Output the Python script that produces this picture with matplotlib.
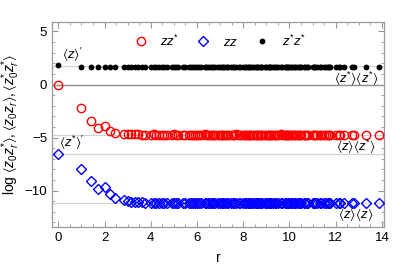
import numpy as np
import matplotlib
matplotlib.use("Agg")
import matplotlib.pyplot as plt
from matplotlib.ticker import MultipleLocator

plt.rcParams['font.family'] = ['Liberation Sans', 'DejaVu Sans']
plt.rcParams['mathtext.fontset'] = 'custom'
plt.rcParams['mathtext.rm'] = 'Liberation Sans'
plt.rcParams['mathtext.it'] = 'Liberation Sans:italic'
plt.rcParams['mathtext.fallback'] = 'stixsans'

# squared lattice distances r^2 = x^2 + y^2 + z^2
r2 = [0, 1, 2, 3, 4, 5, 6, 8, 9, 10,
      11, 12, 13, 14, 16, 17, 18, 19, 20, 21,
      22, 24, 25, 26, 27, 29, 30, 32, 33, 34,
      35, 36, 37, 38, 40, 41, 42, 43, 44, 45,
      46, 48, 49, 50, 51, 52, 53, 54, 56, 57,
      58, 59, 61, 62, 64, 65, 66, 67, 68, 69,
      70, 72, 73, 74, 75, 76, 77, 78, 80, 81,
      82, 83, 84, 85, 86, 88, 89, 90, 93, 94,
      96, 97, 98, 99, 100, 101, 102, 104, 105, 107,
      108, 109, 110, 113, 114, 116, 117, 121, 122, 123,
      125, 128, 129, 132, 134, 136, 137, 138, 144, 147,
      149, 153, 162, 164, 177, 192]
r = np.sqrt(r2)

# log <z0 zr*>
zz_star = [0.0, -2.19, -3.41, -4.07, -3.88, -4.35, -4.54, -4.64, -4.66, -4.69,
           -4.70, -4.71, -4.72, -4.72, -4.72, -4.71, -4.72, -4.72, -4.73, -4.72,
           -4.72, -4.72, -4.71, -4.72, -4.72, -4.72, -4.72, -4.73, -4.72, -4.72,
           -4.72, -4.72, -4.72, -4.72, -4.71, -4.72, -4.72, -4.72, -4.72, -4.72,
           -4.72, -4.72, -4.72, -4.73, -4.72, -4.72, -4.72, -4.72, -4.72, -4.72,
           -4.72, -4.71, -4.72, -4.72, -4.72, -4.72, -4.72, -4.72, -4.72, -4.72,
           -4.72, -4.72, -4.72, -4.72, -4.72, -4.73, -4.72, -4.72, -4.72, -4.72,
           -4.72, -4.72, -4.72, -4.72, -4.72, -4.72, -4.72, -4.72, -4.71, -4.72,
           -4.72, -4.72, -4.72, -4.72, -4.72, -4.72, -4.72, -4.72, -4.72, -4.72,
           -4.72, -4.72, -4.72, -4.72, -4.72, -4.72, -4.72, -4.72, -4.72, -4.72,
           -4.72, -4.72, -4.72, -4.72, -4.72, -4.72, -4.72, -4.72, -4.72, -4.72,
           -4.72, -4.72, -4.72, -4.72, -4.72, -4.72]

# log <z0 zr>
zz = [-6.56, -7.97, -9.07, -9.89, -9.64, -10.33, -10.74, -10.92, -11.00, -11.05,
      -11.08, -11.10, -11.12, -11.14, -11.15, -11.16, -11.17, -11.17, -11.18, -11.18,
      -11.18, -11.18, -11.18, -11.18, -11.18, -11.18, -11.18, -11.18, -11.18, -11.18,
      -11.18, -11.18, -11.18, -11.18, -11.18, -11.18, -11.18, -11.18, -11.18, -11.18,
      -11.18, -11.18, -11.18, -11.18, -11.18, -11.18, -11.18, -11.18, -11.18, -11.18,
      -11.18, -11.18, -11.18, -11.18, -11.18, -11.18, -11.18, -11.18, -11.18, -11.18,
      -11.18, -11.18, -11.18, -11.18, -11.18, -11.18, -11.18, -11.18, -11.18, -11.18,
      -11.18, -11.18, -11.18, -11.18, -11.18, -11.18, -11.18, -11.18, -11.18, -11.18,
      -11.18, -11.18, -11.18, -11.18, -11.18, -11.18, -11.18, -11.18, -11.18, -11.18,
      -11.18, -11.18, -11.18, -11.18, -11.18, -11.18, -11.18, -11.18, -11.18, -11.18,
      -11.18, -11.18, -11.18, -11.18, -11.18, -11.18, -11.18, -11.18, -11.18, -11.18,
      -11.18, -11.18, -11.18, -11.18, -11.18, -11.18]

# log <z0* zr*>
zs_zs = [1.85, 1.68, 1.68, 1.68, 1.68, 1.68, 1.68, 1.68, 1.68, 1.68,
         1.68, 1.68, 1.68, 1.68, 1.68, 1.68, 1.68, 1.68, 1.68, 1.68,
         1.68, 1.68, 1.68, 1.68, 1.68, 1.68, 1.68, 1.68, 1.68, 1.68,
         1.68, 1.68, 1.68, 1.68, 1.68, 1.68, 1.68, 1.68, 1.68, 1.68,
         1.68, 1.68, 1.68, 1.68, 1.68, 1.68, 1.68, 1.68, 1.68, 1.68,
         1.68, 1.68, 1.68, 1.68, 1.68, 1.68, 1.68, 1.68, 1.68, 1.68,
         1.68, 1.68, 1.68, 1.68, 1.68, 1.68, 1.68, 1.68, 1.68, 1.68,
         1.68, 1.68, 1.68, 1.68, 1.68, 1.68, 1.68, 1.68, 1.68, 1.68,
         1.68, 1.68, 1.68, 1.68, 1.68, 1.68, 1.68, 1.68, 1.68, 1.68,
         1.68, 1.68, 1.68, 1.68, 1.68, 1.68, 1.68, 1.68, 1.68, 1.68,
         1.68, 1.68, 1.68, 1.68, 1.68, 1.68, 1.68, 1.68, 1.68, 1.68,
         1.68, 1.68, 1.68, 1.68, 1.68, 1.68]

# reference levels drawn as horizontal lines
ref_levels = [1.75, -4.74, -6.56, -11.13]

fig = plt.figure(figsize=(4.07, 2.71), dpi=100)
ax = fig.add_axes([0.128, 0.162, 0.816, 0.757])

for lv in ref_levels:
    ax.axhline(lv, color='#d2d2d2', lw=0.9, zorder=1)
ax.axhline(0, color='#8c8c8c', lw=1.0, zorder=1)

h1, = ax.plot(r, zz_star, ls='none', marker='o', ms=6, mfc='none', mec='#ff0000', mew=1.0, zorder=3)
h2, = ax.plot(r, zz, ls='none', marker='D', ms=5, mfc='none', mec='#0000ff', mew=1.0, zorder=3)
h3, = ax.plot(r, zs_zs, ls='none', marker='o', ms=4.2, mfc='black', mec='black', mew=0, zorder=3)

fs = 9.5
ax.text(0.15, 1.95, r"$\langle z\rangle'$", fontsize=fs, va='bottom', ha='left')
ax.text(0.05, -6.35, r"$\langle z^{*}\rangle'$", fontsize=fs, va='bottom', ha='left')
ax.text(13.85, 1.35, r"$\langle z^{*}\rangle\langle z^{*}\rangle$", fontsize=fs, va='top', ha='right')
ax.text(13.75, -5.0, r"$\langle z\rangle\langle z^{*}\rangle$", fontsize=fs, va='top', ha='right')
ax.text(13.65, -11.5, r"$\langle z\rangle\langle z\rangle$", fontsize=fs, va='top', ha='right')

ax.legend([h1, h2, h3], [r'$zz^{*}$', r'$zz$', r'$z^{*}z^{*}$'], ncol=3, frameon=False,
          loc='center', bbox_to_anchor=(0.505, 0.905), fontsize=fs,
          handlelength=1.0, handletextpad=1.0, columnspacing=1.3, borderpad=0)

ax.set_xlim(-0.27, 14.1)
ax.set_ylim(-13.45, 5.9)
ax.xaxis.set_major_locator(MultipleLocator(2))
ax.xaxis.set_minor_locator(MultipleLocator(0.5))
ax.yaxis.set_major_locator(MultipleLocator(5))
ax.yaxis.set_minor_locator(MultipleLocator(1))
ax.tick_params(which='both', direction='in', top=True, right=True, color='#999999', labelsize=9.5)
ax.tick_params(which='major', length=4, width=0.8)
ax.tick_params(which='minor', length=2, width=0.6)
for s in ax.spines.values():
    s.set_color('#999999')
    s.set_linewidth(0.9)

ax.set_xlabel('r', fontsize=10, labelpad=5)
ax.set_ylabel(r'log $\langle z_0 z_r^{*}\rangle,\langle z_0 z_r\rangle,\langle z_0^{*} z_r^{*}\rangle$', fontsize=10, labelpad=2)

fig.savefig('out.png', dpi=100)
